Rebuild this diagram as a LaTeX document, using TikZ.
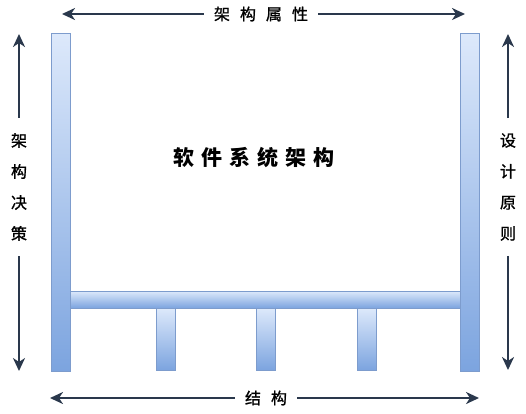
\documentclass[tikz,border=0pt]{standalone}
\usepackage{fontspec}
\newfontfamily\cjk{Noto Sans CJK SC}
\newfontfamily\cjkm[FakeBold=1.2]{Noto Sans CJK SC}
\usetikzlibrary{arrows.meta}
\definecolor{bartop}{RGB}{221,233,251}
\definecolor{barbottom}{RGB}{124,164,223}
\definecolor{barline}{RGB}{125,156,205}
\definecolor{dimline}{RGB}{42,56,76}
\tikzstyle{part_bar} = [draw=barline, line width=0.8pt, top color=bartop, bottom color=barbottom]
\tikzstyle{edge_dim} = [draw=dimline, line width=2.6pt, -{Stealth[length=13pt,width=12pt,inset=4pt]}]
\tikzstyle{label_dim} = [font=\cjkm\fontsize{16}{31}\selectfont, text=black, align=center, inner xsep=10pt, inner ysep=15pt]

\begin{document}
\begin{tikzpicture}[x=1pt, y=-1pt]
\useasboundingbox (0,0) rectangle (526,413);
\def\sepA{\hspace{10pt}}
\def\sepB{\hspace{7pt}}

% pillars, beam and legs
\draw[part_bar] (51,33) rectangle (70,371);
\draw[part_bar] (460,33) rectangle (479,371);
\foreach \x in {156,256,357}
  \draw[part_bar] (\x,308) rectangle (\x+19,370);
\draw[part_bar] (70,291) rectangle (460,308);

\node (S) at (254,157) [font=\cjk\bfseries\fontsize{21}{21}\selectfont] {软\sepB 件\sepB 系\sepB 统\sepB 架\sepB 构};

% dimension arrows
\node (T) at (261,14) [label_dim, inner ysep=2pt] {架\sepA 构\sepA 属\sepA 性};
\coordinate (T1) at (62,14);
\coordinate (T2) at (465,14);
\node (B) at (266,398) [label_dim, inner ysep=2pt] {结\sepA 构};
\coordinate (B1) at (50,398);
\coordinate (B2) at (479,398);
\node (L) at (19,187) [label_dim, inner xsep=2pt] {架\\构\\决\\策};
\coordinate (L1) at (19,34);
\coordinate (L2) at (19,371);
\node (R) at (508,187) [label_dim, inner xsep=2pt] {设\\计\\原\\则};
\coordinate (R1) at (508,34);
\coordinate (R2) at (508,370);

\draw[edge_dim] (T)--(T1);
\draw[edge_dim] (T)--(T2);
\draw[edge_dim] (B)--(B1);
\draw[edge_dim] (B)--(B2);
\draw[edge_dim] (L)--(L1);
\draw[edge_dim] (L)--(L2);
\draw[edge_dim] (R)--(R1);
\draw[edge_dim] (R)--(R2);
\end{tikzpicture}
\end{document}
